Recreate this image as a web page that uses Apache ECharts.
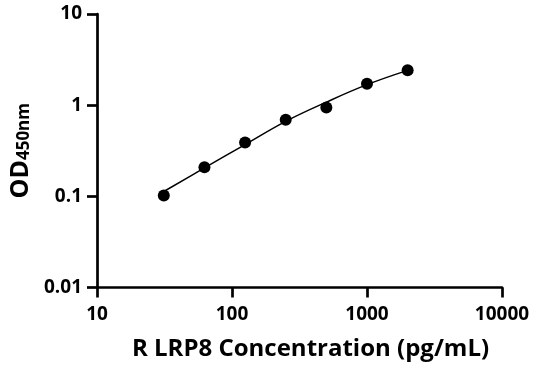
<!DOCTYPE html>
<html><head><meta charset="utf-8">
<script src="https://cdn.jsdelivr.net/npm/echarts@6/dist/echarts.min.js"></script>
<style>html,body{margin:0;padding:0;background:#fff}#c{width:536px;height:371px}</style>
</head><body><div id="c"></div>
<script>
const concentrations = [31.25, 62.5, 125, 250, 500, 1000, 2000];
const odValues = [0.102, 0.208, 0.39, 0.69, 0.94, 1.72, 2.41];
const fitValues = [0.113, 0.205, 0.37, 0.665, 1.08, 1.68, 2.41];
const xTicks = [10, 100, 1000, 10000];
const yTicks = [0.01, 0.1, 1, 10];

const font = '"Open Sans", "DejaVu Sans", sans-serif';
const chart = echarts.init(document.getElementById('c'));
chart.setOption({
  animation: false,
  grid: { left: 92, right: 34, top: 14, bottom: 83.5 },
  xAxis: {
    type: 'log', logBase: 10, min: xTicks[0], max: xTicks[xTicks.length - 1],
    axisLine: { lineStyle: { color: '#000', width: 2.7 } },
    axisTick: { show: true, inside: false, length: 10, lineStyle: { color: '#000', width: 2.7 } },
    minorTick: { show: false },
    splitLine: { show: false },
    axisLabel: { color: '#000', fontSize: 19, fontWeight: 'bold', fontFamily: font, margin: 18,
      formatter: v => String(Math.round(v)) },
    name: 'R LRP8 Concentration (pg/mL)',
    nameLocation: 'middle', nameGap: 50,
    nameTextStyle: { color: '#000', fontSize: 24, fontWeight: 'bold', fontFamily: font, padding: [0, 0, 0, 22] }
  },
  yAxis: {
    type: 'log', logBase: 10, min: yTicks[0], max: yTicks[yTicks.length - 1],
    axisLine: { show: true, lineStyle: { color: '#000', width: 2.7 } },
    axisTick: { show: true, inside: false, length: 10, lineStyle: { color: '#000', width: 2.7 } },
    splitLine: { show: false },
    axisLabel: { color: '#000', fontSize: 19, fontWeight: 'bold', fontFamily: font, margin: 15,
      formatter: v => String(+v.toPrecision(3)) },
    name: '{a|OD}{b|450nm}',
    nameLocation: 'middle', nameGap: 64, nameRotate: 90,
    nameTextStyle: {
      rich: {
        a: { color: '#000', fontSize: 25, fontWeight: 'bold', fontFamily: font },
        b: { color: '#000', fontSize: 17, fontWeight: 'bold', fontFamily: font, padding: [8, 0, 0, 0] }
      }
    }
  },
  series: [
    {
      type: 'line', smooth: 0.4, showSymbol: false,
      data: concentrations.map((c, i) => [c, fitValues[i]]),
      lineStyle: { color: '#000', width: 1.5 }
    },
    {
      type: 'scatter', symbol: 'circle', symbolSize: 12,
      data: concentrations.map((c, i) => [c, odValues[i]]),
      itemStyle: { color: '#000', opacity: 1 }
    }
  ]
});
</script></body></html>
